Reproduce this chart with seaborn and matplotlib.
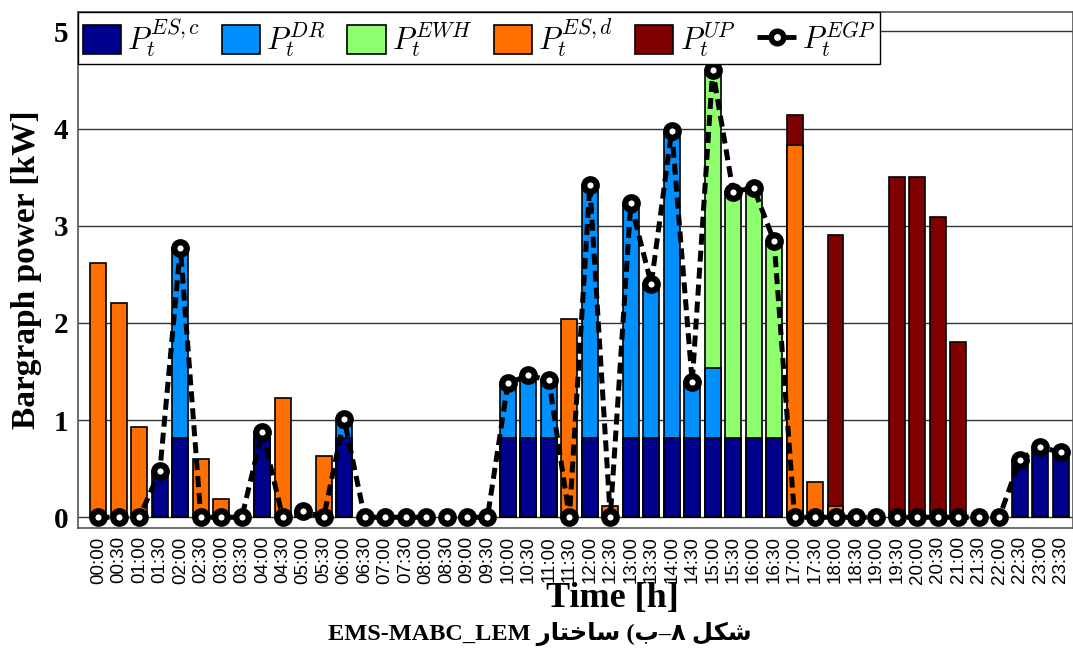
import numpy as np
import pandas as pd
import matplotlib
matplotlib.use("Agg")
import matplotlib.pyplot as plt
from matplotlib.patches import Patch
from matplotlib.lines import Line2D
import seaborn as sns

# time slots (half-hourly)
times = ["00:00", "00:30", "01:00", "01:30", "02:00", "02:30", "03:00", "03:30",
         "04:00", "04:30", "05:00", "05:30", "06:00", "06:30", "07:00", "07:30",
         "08:00", "08:30", "09:00", "09:30", "10:00", "10:30", "11:00", "11:30",
         "12:00", "12:30", "13:00", "13:30", "14:00", "14:30", "15:00", "15:30",
         "16:00", "16:30", "17:00", "17:30", "18:00", "18:30", "19:00", "19:30",
         "20:00", "20:30", "21:00", "21:30", "22:00", "22:30", "23:00", "23:30"]

# power values [kW]
p_esc = [0, 0, 0, 0.48, 0.82, 0, 0, 0, 0.82, 0, 0.06, 0,
         0.82, 0, 0, 0, 0, 0, 0, 0, 0.82, 0.82, 0.82, 0,
         0.82, 0, 0.82, 0.82, 0.82, 0.82, 0.82, 0.82, 0.82, 0.82, 0, 0,
         0, 0, 0, 0, 0, 0, 0, 0, 0, 0.59, 0.72, 0.67]
p_dr = [0, 0, 0, 0, 1.95, 0, 0, 0, 0.06, 0, 0, 0,
        0.19, 0, 0, 0, 0, 0, 0, 0, 0.56, 0.64, 0.59, 0,
        2.60, 0, 2.41, 1.58, 3.16, 0.57, 0.72, 0, 0, 0, 0, 0,
        0, 0, 0, 0, 0, 0, 0, 0, 0, 0, 0, 0]
p_ewh = [0, 0, 0, 0, 0, 0, 0, 0, 0, 0, 0, 0,
         0, 0, 0, 0, 0, 0, 0, 0, 0, 0, 0, 0,
         0, 0, 0, 0, 0, 0, 3.06, 2.53, 2.57, 2.02, 0, 0,
         0, 0, 0, 0, 0, 0, 0, 0, 0, 0, 0, 0]
p_esd = [2.62, 2.20, 0.93, 0, 0, 0.60, 0.19, 0, 0, 1.23, 0, 0.63,
         0, 0, 0, 0, 0, 0, 0, 0, 0, 0, 0, 2.04,
         0, 0.12, 0, 0, 0, 0, 0, 0, 0, 0, 3.83, 0.36,
         0.12, 0, 0, 0, 0, 0, 0, 0, 0, 0, 0, 0]
p_up = [0, 0, 0, 0, 0, 0, 0, 0, 0, 0, 0, 0,
        0, 0, 0, 0, 0, 0, 0, 0, 0, 0, 0, 0,
        0, 0, 0, 0, 0, 0, 0, 0, 0, 0, 0.31, 0,
        2.79, 0, 0, 3.50, 3.50, 3.09, 1.80, 0, 0, 0, 0, 0]
p_egp = [0, 0, 0, 0.48, 2.77, 0, 0, 0, 0.88, 0, 0.06, 0,
         1.01, 0, 0, 0, 0, 0, 0, 0, 1.38, 1.46, 1.41, 0,
         3.42, 0, 3.23, 2.40, 3.98, 1.39, 4.60, 3.35, 3.39, 2.84, 0, 0,
         0, 0, 0, 0, 0, 0, 0, 0, 0, 0.59, 0.72, 0.67]

labels = [r"$P_t^{ES,c}$", r"$P_t^{DR}$", r"$P_t^{EWH}$", r"$P_t^{ES,d}$", r"$P_t^{UP}$"]
colors = ["#00008F", "#008FFF", "#8FFF6F", "#FF7000", "#800000"]

sns.set_theme(style="white")
plt.rcParams["mathtext.fontset"] = "cm"
plt.rcParams["font.family"] = ["Liberation Serif", "DejaVu Sans"]
plt.rcParams["text.color"] = "black"
plt.rcParams["axes.labelcolor"] = "black"
plt.rcParams["xtick.color"] = "black"
plt.rcParams["ytick.color"] = "black"

df = pd.DataFrame({"time": times, "esc": p_esc, "dr": p_dr, "ewh": p_ewh,
                   "esd": p_esd, "up": p_up, "egp": p_egp})
layers = ["esc", "dr", "ewh", "esd", "up"]

fig = plt.figure(figsize=(10.73, 6.51), dpi=100)
ax = fig.add_axes([0.0727, 0.189, 0.9273, 0.7926])

# stacked bars: draw cumulative totals from the top layer down
cum = df[layers].cumsum(axis=1)
for i in range(len(layers) - 1, -1, -1):
    h = cum[layers[i]].where(df[layers[i]] > 0)
    sns.barplot(x=df["time"], y=h, order=times, color=colors[i], saturation=1,
                width=0.78, edgecolor="black", linewidth=1.2, ax=ax, zorder=2)

sns.lineplot(x=np.arange(len(times)), y=df["egp"], ax=ax, color="black",
             lw=3.6, zorder=4)
ax.lines[-1].set_dashes([2.2, 1.2])
ax.plot(np.arange(len(times)), df["egp"], ls="none", marker="o", ms=9,
        mfc="white", mec="black", mew=4.5, zorder=5)

ax.set_xlim(-1, 47.6)
ax.set_ylim(-0.11, 5.2)
ax.set_yticks([0, 1, 2, 3, 4, 5])
ax.set_yticklabels(["0", "1", "2", "3", "4", "5"], fontsize=21, fontweight="bold")
ax.set_xticks(np.arange(len(times)))
ax.set_xticklabels(times, rotation=90, fontsize=13.5, family="Liberation Sans")
ax.set_xticks(np.arange(0, len(times), 2), minor=True)
ax.tick_params(axis="x", which="both", length=0, pad=6)
ax.tick_params(axis="y", length=4, pad=3)
ax.grid(axis="x", which="minor", color="#333333", lw=1)
ax.grid(axis="y", which="major", color="#333333", lw=1)
ax.set_axisbelow(True)
for s in ax.spines.values():
    s.set_color("#555555")
    s.set_linewidth(1.2)

ax.set_xlabel("Time [h]", fontsize=26, fontweight="bold")
ax.xaxis.set_label_coords(0.537, -0.105)
ax.set_ylabel("Bargraph power [kW]", fontsize=24, fontweight="bold")
ax.yaxis.set_label_coords(-0.036, 0.5)

handles = [Patch(facecolor=c, edgecolor="black", lw=1.2) for c in colors]
handles.append(Line2D([0], [0], color="black", lw=3.5, ls="--", marker="o", ms=9,
                      mfc="white", mec="black", mew=4))
leg = ax.legend(handles, labels + [r"$P_t^{EGP}$"], loc="upper left", ncol=6,
                fontsize=22, frameon=True, fancybox=False, framealpha=1,
                borderaxespad=0, handlelength=1.25, handleheight=1.1,
                handletextpad=0.2, columnspacing=0.72, borderpad=0.15)
leg.get_frame().set_edgecolor("black")
leg.get_frame().set_linewidth(1)
leg.set_zorder(10)

# caption (Persian, shaped glyphs in visual order, right-to-left)
caption = ("EMS-MABC_LEM \uFEAD\uFE8E\uFE98\uFEA7\uFE8E\uFEB3 "
           "(\uFE8F\u2013\u06F8 \uFEDE\uFB91\uFEB7")
fig.text(0.503, 0.027, caption, ha="center", va="center", fontsize=17.5,
         fontweight="bold", family=["Liberation Serif", "DejaVu Sans"])

fig.savefig("out.png", dpi=100)
